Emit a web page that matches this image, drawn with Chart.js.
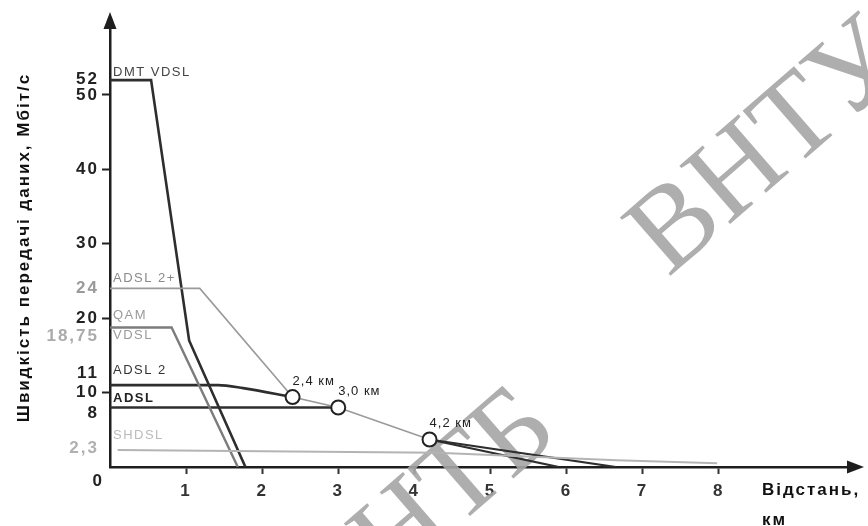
<!DOCTYPE html>
<html>
<head>
<meta charset="utf-8">
<script src="https://cdn.jsdelivr.net/npm/chart.js@4"></script>
<style>
  html, body { margin: 0; padding: 0; background: #fff; }
  #wrap { width: 868px; height: 526px; }
</style>
</head>
<body>
<div id="wrap"><canvas id="c"></canvas></div>
<script>
// --- data (x: distance, km; y: rate, Mbit/s) ---
const xTickValues = [1, 2, 3, 4, 5, 6, 7, 8];
const yTickValues = [10, 20, 30, 40, 50];

const dmtVdsl  = [[0, 52], [0.54, 52], [1.04, 17], [1.78, 0]];
const qamVdsl  = [[0, 18.75], [0.81, 18.75], [1.68, 0]];
const adsl2p   = [[0, 24], [1.18, 24], [2.4, 9.4], [3.0, 8], [4.2, 3.7]];
const adsl2    = [[0, 11], [1.42, 11], [1.75, 10.6], [2.4, 9.4]];
const adsl     = [[0, 8], [3.0, 8]];
const tailA    = [[4.2, 3.7], [5.9, 0]];
const tailB    = [[4.2, 3.7], [6.65, 0]];
const shdsl    = [[0.1, 2.3], [4.3, 1.9], [6.66, 0.9], [7.98, 0.5]];
const reachPts = [[2.4, 9.4], [3.0, 8], [4.2, 3.7]];
const reachLabels = ['2,4 км', '3,0 км', '4,2 км'];

const yTitle = 'Швидкість передачі даних, Мбіт/с';
const xTitle = ['Відстань,', 'км'];

const pts = arr => arr.map(([x, y]) => ({ x, y }));

const DARK = '#2e2e2e';
const lineDs = (label, data, color, width, extra) => Object.assign({
  label, data: pts(data), borderColor: color, borderWidth: width,
  pointRadius: 0, fill: false, tension: 0, order: 2
}, extra || {});

// name above the line, rate on the axis (nudges keep labels apart like in the figure)
const seriesText = [
  { name: 'DMT VDSL', rate: '52',    y: 52,    nameDy: -8,  rateDy: -1,  nameColor: '#444', rateColor: '#222' },
  { name: 'ADSL 2+',  rate: '24',    y: 24,    nameDy: -10, rateDy: 0,   nameColor: '#8a8a8a', rateColor: '#9a9a9a' },
  { name: 'QAM',      rate: null,    y: 18.75, nameDy: -12, rateDy: 0,   nameColor: '#9a9a9a', rateColor: '#aaa' },
  { name: 'VDSL',     rate: '18,75', y: 18.75, nameDy: 8,   rateDy: 9,   nameColor: '#9a9a9a', rateColor: '#aaa' },
  { name: 'ADSL 2',   rate: '11',    y: 11,    nameDy: -15, rateDy: -12, nameColor: '#333', rateColor: '#222' },
  { name: 'ADSL',     rate: '8',     y: 8,     nameDy: -9,  rateDy: 6,   nameColor: '#222', rateColor: '#222', bold: true },
  { name: 'SHDSL',    rate: '2,3',   y: 2.3,   nameDy: -14, rateDy: -2,  nameColor: '#bbb', rateColor: '#b0b0b0' }
];

function drawText(ctx, s, x, y, font, color, align, spacing) {
  ctx.save();
  ctx.font = font;
  ctx.fillStyle = color;
  ctx.textAlign = align || 'left';
  ctx.textBaseline = 'middle';
  ctx.letterSpacing = spacing || '0px';
  ctx.fillText(s, x, y);
  ctx.restore();
}

const decor = {
  id: 'decor',
  beforeDraw(chart) {
    chart.ctx.letterSpacing = '2px';
  },
  beforeDatasetsDraw(chart) {
    // library watermark of the scanned page
    const ctx = chart.ctx;
    ctx.save();
    ctx.letterSpacing = '0px';
    ctx.fillStyle = 'rgba(165,165,165,0.9)';
    ctx.font = '118px "Liberation Serif"';
    ctx.textBaseline = 'alphabetic';
    const ang = -41 * Math.PI / 180;
    ctx.save(); ctx.translate(668, 278); ctx.rotate(ang); ctx.fillText('ВНТУ', 0, 0); ctx.restore();
    ctx.save(); ctx.translate(392, 584); ctx.rotate(ang); ctx.fillText('НТБ', 0, 0); ctx.restore();
    ctx.restore();
  },
  afterDatasetsDraw(chart) {
    const ctx = chart.ctx;
    const xs = chart.scales.x, ys = chart.scales.y;
    const left = chart.chartArea.left;
    const small = '13px "Liberation Sans"';
    const big = 'bold 17px "Liberation Sans"';

    seriesText.forEach(t => {
      const py = ys.getPixelForValue(t.y);
      drawText(ctx, t.name, left + 3, py + t.nameDy, (t.bold ? 'bold ' : '') + small, t.nameColor, 'left', '1.5px');
      if (t.rate) drawText(ctx, t.rate, left - 11, py + t.rateDy, big, t.rateColor, 'right', '2px');
    });
    drawText(ctx, '0', left - 6, ys.getPixelForValue(0) + 14, big, '#222', 'right', '2px');

    reachPts.forEach(([x, y], i) => {
      drawText(ctx, reachLabels[i], xs.getPixelForValue(x), ys.getPixelForValue(y) - 16, small, '#222', 'left', '1px');
    });

    // axis arrows
    const b = chart.chartArea.bottom, r = chart.chartArea.right, top = chart.chartArea.top;
    ctx.save();
    ctx.fillStyle = '#1e1e1e';
    ctx.beginPath();
    ctx.moveTo(left, top - 16); ctx.lineTo(left - 6.5, top + 1); ctx.lineTo(left + 6.5, top + 1); ctx.closePath(); ctx.fill();
    ctx.beginPath();
    ctx.moveTo(r + 16, b); ctx.lineTo(r - 1, b - 6.5); ctx.lineTo(r - 1, b + 6.5); ctx.closePath(); ctx.fill();
    ctx.restore();

    drawText(ctx, xTitle[0], 762, b + 23, big, '#111', 'left', '2px');
    drawText(ctx, xTitle[1], 762, b + 53, big, '#111', 'left', '2px');
  }
};

new Chart(document.getElementById('c'), {
  type: 'line',
  data: {
    datasets: [
      lineDs('SHDSL', shdsl, '#b4b4b4', 2),
      lineDs('ADSL 2+', adsl2p, '#9a9a9a', 1.6),
      lineDs('QAM VDSL', qamVdsl, '#7c7c7c', 2.4),
      lineDs('DMT VDSL', dmtVdsl, DARK, 2.6),
      lineDs('ADSL 2', adsl2, DARK, 2.6, { cubicInterpolationMode: 'monotone' }),
      lineDs('ADSL', adsl, DARK, 2.6),
      lineDs('tail a', tailA, DARK, 2.2),
      lineDs('tail b', tailB, DARK, 2.2),
      {
        label: 'reach', data: pts(reachPts), showLine: false, order: 0,
        pointRadius: 7, pointBorderWidth: 2, pointBackgroundColor: '#fff', pointBorderColor: '#222'
      }
    ]
  },
  options: {
    responsive: true,
    maintainAspectRatio: false,
    animation: false,
    events: [],
    layout: { padding: { top: 28, right: 20, left: 0, bottom: 0 } },
    plugins: { legend: { display: false }, tooltip: { enabled: false } },
    scales: {
      x: {
        type: 'linear', min: 0, max: 9.7,
        afterBuildTicks: s => { s.ticks = xTickValues.map(v => ({ value: v })); },
        afterFit: s => { s.height = 59; },
        grid: { drawOnChartArea: false, tickLength: 7, tickWidth: 2, tickColor: '#333' },
        border: { color: '#1e1e1e', width: 2.5 },
        ticks: { color: '#333', font: { family: 'Liberation Sans', weight: 'bold', size: 17 }, padding: 7, maxRotation: 0, autoSkip: false }
      },
      y: {
        min: 0, max: 59,
        afterBuildTicks: s => { s.ticks = yTickValues.map(v => ({ value: v })); },
        afterFit: s => { s.width = 110; },
        grid: { drawOnChartArea: false, tickLength: 8, tickWidth: 2, tickColor: '#222' },
        border: { color: '#1e1e1e', width: 2.5 },
        ticks: { color: '#222', font: { family: 'Liberation Sans', weight: 'bold', size: 17 }, padding: 3, autoSkip: false },
        title: {
          display: true, text: yTitle, color: '#111',
          font: { family: 'Liberation Sans', weight: 'bold', size: 17 },
          padding: { top: 14, bottom: 0 }
        }
      }
    }
  },
  plugins: [decor]
});
</script>
</body>
</html>
